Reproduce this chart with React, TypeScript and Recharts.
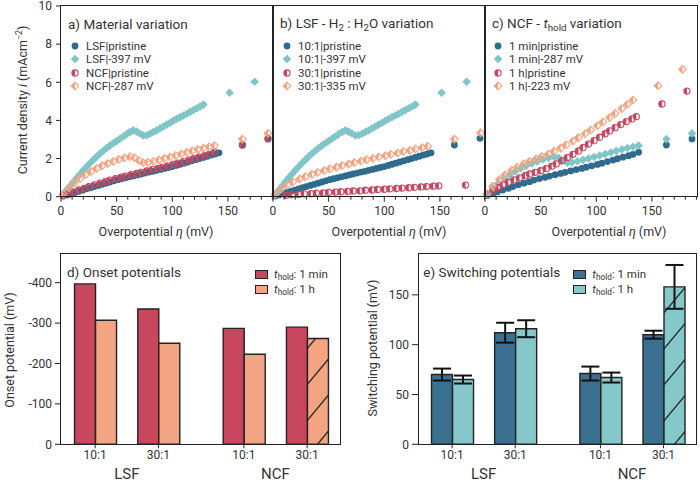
import React from 'react'
import {
    ScatterChart,
    Scatter,
    XAxis,
    YAxis,
    BarChart,
    Bar,
    Cell,
    ErrorBar,
} from 'recharts'

const FONT = 'Roboto, "Noto Sans", sans-serif'
const INK = '#333333'
const EDGE = '#222222'

const BLUE = '#2f6b8d'
const TEAL = '#80c6c8'
const RED = '#c9465f'
const ORANGE = '#f5a37f'

// a) - c): [overpotential (mV), current density (mA/cm2)]
const lsf10Pristine = [
    [2, 0.03], [5.5, 0.09], [9, 0.15], [12.5, 0.22], [16, 0.28], [19.5, 0.34], [23, 0.41],
    [26.5, 0.47], [30, 0.53], [33.5, 0.59], [37, 0.65], [40.5, 0.71], [44, 0.77], [47.5, 0.83],
    [51, 0.89], [54.5, 0.94], [58, 0.99], [61.5, 1.04], [65, 1.09], [68.5, 1.14], [72, 1.19],
    [75.5, 1.24], [79, 1.29], [82.5, 1.33], [86, 1.38], [89.5, 1.43], [93, 1.48], [96.5, 1.53],
    [100, 1.58], [103.5, 1.64], [107, 1.7], [110.5, 1.76], [114, 1.82], [117.5, 1.88], [121, 1.94],
    [124.5, 2.0], [128, 2.06], [131.5, 2.12], [135, 2.18], [138.5, 2.24], [142, 2.3],
    [163, 2.71], [186, 3.06],
]
const lsf10Switched = [
    [2, 0.12], [5, 0.33], [8, 0.55], [11, 0.77], [14, 0.98], [17, 1.18], [20, 1.38], [23, 1.57],
    [26, 1.75], [29, 1.93], [32, 2.1], [35, 2.26], [38, 2.41], [41, 2.55], [44, 2.68], [47, 2.8],
    [50, 2.92], [53, 3.04], [56, 3.16], [59, 3.28], [62, 3.39], [65, 3.48], [68, 3.41], [71, 3.31],
    [74, 3.21], [77, 3.22], [80, 3.3], [83, 3.39], [86, 3.48], [89, 3.58], [92, 3.68], [95, 3.78],
    [98, 3.88], [101, 3.98], [104, 4.08], [107, 4.17], [110, 4.26], [113, 4.35], [116, 4.45],
    [119, 4.54], [122, 4.64], [125, 4.73], [128, 4.83],
    [151.5, 5.45], [174, 6.03],
]
const ncf1minPristine = [
    [2, 0.06], [7, 0.16], [11, 0.25], [16, 0.35], [21, 0.44], [25, 0.53], [30, 0.62], [35, 0.71],
    [40, 0.79], [44, 0.87], [49, 0.95], [54, 1.02], [58, 1.08], [63, 1.15], [68, 1.22], [72, 1.28],
    [77, 1.35], [82, 1.42], [87, 1.48], [91, 1.55], [96, 1.62], [101, 1.69], [105, 1.76],
    [110, 1.84], [115, 1.92], [119, 1.99], [124, 2.07], [129, 2.15], [133, 2.22], [138, 2.33],
    [163, 2.71], [186, 3.03],
]
const ncf1minSwitched = [
    [2, 0.15], [7, 0.45], [12, 0.72], [17, 0.95], [22, 1.15], [27, 1.32], [32, 1.48], [37, 1.62],
    [42, 1.74], [47, 1.85], [52, 1.95], [57, 2.03], [62, 2.1], [66, 2.04], [70, 1.9], [74, 1.78],
    [78, 1.8], [83, 1.86], [88, 1.93], [93, 2.0], [98, 2.08], [103, 2.16], [108, 2.24], [113, 2.32],
    [118, 2.4], [123, 2.48], [128, 2.55], [133, 2.62], [138, 2.68],
    [163, 3.02], [186, 3.32],
]
const lsf30Pristine = [
    [12, 0.07], [17, 0.1], [23, 0.12], [28, 0.15], [34, 0.16], [39, 0.19], [45, 0.2], [50, 0.23],
    [56, 0.24], [61, 0.26], [67, 0.28], [72, 0.3], [78, 0.31], [83, 0.34], [89, 0.35], [94, 0.38],
    [100, 0.39], [105, 0.41], [111, 0.43], [116, 0.45], [122, 0.47], [127, 0.49], [133, 0.51],
    [138, 0.53], [144, 0.55], [149, 0.57],
    [173, 0.61],
]
const lsf30Switched = [
    [2, 0.12], [7, 0.38], [13, 0.6], [18, 0.78], [24, 0.93], [29, 1.05], [35, 1.17], [40, 1.27],
    [46, 1.37], [51, 1.46], [57, 1.55], [62, 1.63], [68, 1.71], [73, 1.79], [79, 1.87], [84, 1.94],
    [90, 2.01], [95, 2.08], [101, 2.15], [106, 2.22], [112, 2.29], [117, 2.36], [123, 2.43],
    [128, 2.5], [134, 2.57], [139, 2.65],
    [163, 3.02], [186.5, 3.35],
]
const ncf1hPristine = [
    [2, 0.1], [7, 0.3], [12, 0.48], [16, 0.62], [21, 0.76], [26, 0.88], [31, 0.99], [36, 1.1],
    [40, 1.19], [45, 1.28], [50, 1.36], [55, 1.47], [60, 1.6], [64, 1.72], [69, 1.88], [74, 2.05],
    [79, 2.22], [84, 2.4], [88, 2.57], [93, 2.76], [98, 2.94], [103, 3.12], [108, 3.3], [112, 3.45],
    [117, 3.62], [122, 3.78], [127, 3.94], [132, 4.08], [136, 4.2],
    [159, 4.86], [181.5, 5.54],
]
const ncf1hSwitched = [
    [2, 0.15], [7, 0.55], [13, 0.9], [18, 1.15], [24, 1.38], [29, 1.55], [35, 1.72], [40, 1.85],
    [46, 1.98], [51, 2.1], [57, 2.24], [62, 2.38], [68, 2.55], [73, 2.72], [79, 2.92], [84, 3.1],
    [90, 3.3], [95, 3.5], [101, 3.72], [106, 3.92], [112, 4.15], [117, 4.37], [123, 4.62],
    [128, 4.85], [133, 5.07],
    [155.5, 5.82], [177.5, 6.68],
]

const X_TICKS = [0, 10, 20, 30, 40, 50, 60, 70, 80, 90, 100, 110, 120, 130, 140, 150, 160, 170, 180, 190]
const Y_TICKS = [0, 2, 4, 6, 8, 10]

// d), e): bar groups
const ratioLabels = ['10:1', '30:1', '10:1', '30:1']
const groupLabels = ['LSF', 'NCF']
const onset1min = [-397, -335, -287, -290]
const onset1h = [-307, -250, -223, -262]
const switch1min = [70, 112, 71, 110]
const switch1minErr = [6, 10, 7, 4]
const switch1h = [65, 116, 67, 158]
const switch1hErr = [4, 8.5, 5, 22]

// where the groups sit on the numeric x axis of d) and e)
const RATIO_POS = [0, 1, 2.35, 3.35]
const GROUP_POS = [0.5, 2.85]
const BAR_DOMAIN = [-0.54, 3.87]

const BAR_RED = '#c8465e'
const BAR_ORANGE = '#f3a583'
const BAR_BLUE = '#3b7091'
const BAR_TEAL = '#84c8c9'

const pts = (arr: number[][]) => arr.map(([x, y]) => ({ x, y }))

const Sub = ({ children }: any) => (
    <span style={{ fontSize: '0.72em', verticalAlign: '-0.28em' }}>{children}</span>
)

function Marker({ cx, cy, kind, color }: any) {
    if (cx == null || cy == null) return null
    if (kind === 'circle') return <circle cx={cx} cy={cy} r={3.4} fill={color} />
    if (kind === 'diamond') {
        const r = 4.3
        return (
            <polygon
                points={`${cx},${cy - r} ${cx + r},${cy} ${cx},${cy + r} ${cx - r},${cy}`}
                fill={color}
            />
        )
    }
    if (kind === 'halfCircle') {
        const r = 3.1
        return (
            <g>
                <path d={`M${cx},${cy - r} A${r},${r} 0 0 0 ${cx},${cy + r} Z`} fill={color} />
                <circle cx={cx} cy={cy} r={r} fill="none" stroke={color} strokeWidth={1.1} />
            </g>
        )
    }
    const r = 3.8
    return (
        <g>
            <polygon points={`${cx},${cy - r} ${cx - r},${cy} ${cx},${cy + r}`} fill={color} />
            <polygon
                points={`${cx},${cy - r} ${cx + r},${cy} ${cx},${cy + r} ${cx - r},${cy}`}
                fill="none"
                stroke={color}
                strokeWidth={1.1}
            />
        </g>
    )
}

const panels = [
    {
        x: 61,
        title: <>a) Material variation</>,
        legendX: 75,
        series: [
            { name: 'LSF|pristine', data: lsf10Pristine, color: BLUE, kind: 'circle' },
            { name: 'LSF|-397 mV', data: lsf10Switched, color: TEAL, kind: 'diamond' },
            { name: 'NCF|pristine', data: ncf1minPristine, color: RED, kind: 'halfCircle' },
            { name: 'NCF|-287 mV', data: ncf1minSwitched, color: ORANGE, kind: 'halfDiamond' },
        ],
    },
    {
        x: 273,
        title: (
            <>
                b) LSF - H<Sub>2</Sub> : H<Sub>2</Sub>O variation
            </>
        ),
        legendX: 287,
        series: [
            { name: '10:1|pristine', data: lsf10Pristine, color: BLUE, kind: 'circle' },
            { name: '10:1|-397 mV', data: lsf10Switched, color: TEAL, kind: 'diamond' },
            { name: '30:1|pristine', data: lsf30Pristine, color: RED, kind: 'halfCircle' },
            { name: '30:1|-335 mV', data: lsf30Switched, color: ORANGE, kind: 'halfDiamond' },
        ],
    },
    {
        x: 485,
        title: (
            <>
                c) NCF - <i>t</i>
                <Sub>hold</Sub> variation
            </>
        ),
        legendX: 498,
        series: [
            { name: '1 min|pristine', data: ncf1minPristine, color: BLUE, kind: 'circle' },
            { name: '1 min|-287 mV', data: ncf1minSwitched, color: TEAL, kind: 'diamond' },
            { name: '1 h|pristine', data: ncf1hPristine, color: RED, kind: 'halfCircle' },
            { name: '1 h|-223 mV', data: ncf1hSwitched, color: ORANGE, kind: 'halfDiamond' },
        ],
    },
]

const TOP = { y: 6, w: 212, h: 190.7 }
const LEGEND_ROWS = [46, 59.3, 72.5, 85.5]

function XTick({ x, y, payload }: any) {
    const major = payload.value % 50 === 0
    return (
        <g>
            <line x1={x} x2={x} y1={y} y2={y + (major ? 5 : 3)} stroke={EDGE} strokeWidth={1} />
            {major && (
                <text x={x} y={y + 18} textAnchor="middle" fontSize={12} fill={INK} fontFamily={FONT}>
                    {payload.value}
                </text>
            )}
        </g>
    )
}

const NoTick = () => <g />

function Frame({ x, y, w, h }: any) {
    return (
        <div
            style={{
                position: 'absolute',
                left: x - 0.75,
                top: y - 0.75,
                width: w + 1.5,
                height: h + 1.5,
                border: `1.5px solid ${EDGE}`,
                boxSizing: 'border-box',
                pointerEvents: 'none',
            }}
        />
    )
}

function Txt({ x, y, size = 12, center = false, rotate = false, children }: any) {
    let transform = center ? 'translate(-50%, -50%)' : 'translateY(-50%)'
    if (rotate) transform += ' rotate(-90deg)'
    return (
        <div
            style={{
                position: 'absolute',
                left: x,
                top: y,
                transform,
                whiteSpace: 'nowrap',
                fontSize: size,
                lineHeight: 1,
                color: INK,
                fontFamily: FONT,
            }}
        >
            {children}
        </div>
    )
}

function CurvePanel({ panel, first }: any) {
    const L = 60
    const R = 6
    const T = TOP.y
    const B = 44
    return (
        <div style={{ position: 'absolute', left: panel.x - L, top: 0 }}>
            <ScatterChart
                width={TOP.w + L + R}
                height={TOP.h + T + B}
                margin={{ top: T, right: R, bottom: B - 30, left: first ? L - 40 : L }}
            >
                <XAxis
                    type="number"
                    dataKey="x"
                    domain={[0, 190.5]}
                    ticks={X_TICKS}
                    interval={0}
                    height={30}
                    tickSize={0}
                    tickMargin={0}
                    tickLine={false}
                    axisLine={false}
                    tick={<XTick />}
                />
                {first ? (
                    <YAxis
                        type="number"
                        dataKey="y"
                        domain={[0, 10]}
                        ticks={Y_TICKS}
                        interval={0}
                        width={40}
                        tickSize={5}
                        tickMargin={4}
                        axisLine={false}
                        tickLine={{ stroke: EDGE }}
                        tick={{ fontSize: 12, fill: INK, fontFamily: FONT }}
                    />
                ) : (
                    <YAxis
                        type="number"
                        dataKey="y"
                        domain={[0, 10]}
                        ticks={[2, 4, 6, 8]}
                        interval={0}
                        width={0}
                        mirror
                        tickSize={5}
                        axisLine={false}
                        tickLine={{ stroke: EDGE }}
                        tick={<NoTick />}
                    />
                )}
                {panel.series.map((s: any) => (
                    <Scatter
                        key={s.name}
                        name={s.name}
                        data={pts(s.data)}
                        isAnimationActive={false}
                        shape={(p: any) => <Marker cx={p.cx} cy={p.cy} kind={s.kind} color={s.color} />}
                    />
                ))}
            </ScatterChart>
        </div>
    )
}

function CurveLegend({ panel }: any) {
    return (
        <>
            {panel.series.map((s: any, i: number) => (
                <div
                    key={s.name}
                    style={{
                        position: 'absolute',
                        left: panel.legendX - 7,
                        top: LEGEND_ROWS[i] - 7,
                        height: 14,
                        display: 'flex',
                        alignItems: 'center',
                        whiteSpace: 'nowrap',
                        fontFamily: FONT,
                        fontSize: 11.5,
                        color: INK,
                    }}
                >
                    <svg width={14} height={14}>
                        <Marker cx={7} cy={7} kind={s.kind} color={s.color} />
                    </svg>
                    <span style={{ marginLeft: 4 }}>{s.name}</span>
                </div>
            ))}
        </>
    )
}

const BOTTOM = { y: 254, h: 190.3 }

function BarPanel({ x, w, rows, keys, colors, hatch, yProps, errKeys }: any) {
    const L = 60
    const R = 6
    const T = 6
    return (
        <div style={{ position: 'absolute', left: x - L, top: BOTTOM.y - T }}>
            <BarChart
                width={w + L + R}
                height={BOTTOM.h + T + 40}
                data={rows}
                margin={{ top: T, right: R, bottom: 0, left: L - 50 }}
                barGap={0}
            >
                <XAxis
                    xAxisId="ax1"
                    type="number"
                    dataKey="pos"
                    domain={BAR_DOMAIN}
                    allowDataOverflow
                    ticks={RATIO_POS}
                    interval={0}
                    height={19}
                    tickSize={4}
                    tickMargin={2}
                    axisLine={false}
                    tickLine={{ stroke: EDGE }}
                    tickFormatter={(v: number) => ratioLabels[RATIO_POS.indexOf(v)]}
                    tick={{ fontSize: 12, fill: INK, fontFamily: FONT }}
                />
                <XAxis
                    xAxisId="ax2"
                    type="number"
                    dataKey="pos"
                    domain={BAR_DOMAIN}
                    allowDataOverflow
                    ticks={GROUP_POS}
                    interval={0}
                    height={21}
                    tickSize={0}
                    tickMargin={5}
                    axisLine={false}
                    tickLine={false}
                    tickFormatter={(v: number) => groupLabels[GROUP_POS.indexOf(v)]}
                    tick={{ fontSize: 15, fill: INK, fontFamily: FONT }}
                />
                <YAxis
                    type="number"
                    width={50}
                    interval={0}
                    tickSize={6}
                    tickMargin={3}
                    axisLine={false}
                    tickLine={{ stroke: EDGE }}
                    tick={{ fontSize: 12, fill: INK, fontFamily: FONT }}
                    {...yProps}
                />
                {keys.map((k: string, i: number) => (
                    <Bar
                        key={k}
                        xAxisId="ax1"
                        dataKey={k}
                        barSize={21}
                        fill={colors[i]}
                        stroke={EDGE}
                        strokeWidth={1.4}
                        isAnimationActive={false}
                    >
                        {i === 1 &&
                            rows.map((_: any, j: number) => (
                                <Cell key={j} fill={j === rows.length - 1 ? `url(#${hatch})` : colors[i]} />
                            ))}
                        {errKeys && (
                            <ErrorBar dataKey={errKeys[i]} width={9} strokeWidth={2} stroke="#111" direction="y" />
                        )}
                    </Bar>
                ))}
            </BarChart>
        </div>
    )
}

function BarLegend({ x, colors }: any) {
    const rows = [274.3, 289.3]
    const txt = ['1 min', '1 h']
    return (
        <>
            {rows.map((y, i) => (
                <div
                    key={i}
                    style={{
                        position: 'absolute',
                        left: x,
                        top: y - 7,
                        height: 14,
                        display: 'flex',
                        alignItems: 'center',
                        whiteSpace: 'nowrap',
                        fontFamily: FONT,
                        fontSize: 11.5,
                        color: INK,
                    }}
                >
                    <div
                        style={{
                            width: 13,
                            height: 9,
                            background: colors[i],
                            border: `1.2px solid ${EDGE}`,
                            boxSizing: 'border-box',
                        }}
                    />
                    <span style={{ marginLeft: 6 }}>
                        <i>t</i>
                        <Sub>hold</Sub>: {txt[i]}
                    </span>
                </div>
            ))}
        </>
    )
}

export default function App() {
    const onsetRows = RATIO_POS.map((pos, i) => ({ pos, min1: onset1min[i], h1: onset1h[i] }))
    const switchRows = RATIO_POS.map((pos, i) => ({
        pos,
        min1: switch1min[i],
        h1: switch1h[i],
        min1Err: switch1minErr[i],
        h1Err: switch1hErr[i],
    }))

    return (
        <div
            style={{
                position: 'absolute',
                left: 0,
                top: 0,
                width: 700,
                height: 484,
                background: '#fff',
                overflow: 'hidden',
                fontFamily: FONT,
            }}
        >
            <svg width={0} height={0} style={{ position: 'absolute' }}>
                <defs>
                    <pattern id="hatchOrange" patternUnits="userSpaceOnUse" width={30} height={36}>
                        <rect width={30} height={36} fill={BAR_ORANGE} />
                        <path d="M-3,39.6 L33,-3.6" stroke={EDGE} strokeWidth={1.3} />
                    </pattern>
                    <pattern id="hatchTeal" patternUnits="userSpaceOnUse" width={30} height={36}>
                        <rect width={30} height={36} fill={BAR_TEAL} />
                        <path d="M-3,39.6 L33,-3.6" stroke={EDGE} strokeWidth={1.3} />
                    </pattern>
                </defs>
            </svg>

            {panels.map((p, i) => (
                <CurvePanel key={i} panel={p} first={i === 0} />
            ))}
            {panels.map((p, i) => (
                <Frame key={i} x={p.x} y={TOP.y} w={TOP.w} h={TOP.h} />
            ))}
            {panels.map((p, i) => (
                <CurveLegend key={i} panel={p} />
            ))}
            <Txt x={68} y={25} size={13.5}>{panels[0].title}</Txt>
            <Txt x={280} y={25} size={13.5}>{panels[1].title}</Txt>
            <Txt x={492} y={25} size={13.5}>{panels[2].title}</Txt>

            <Txt x={22} y={100} size={12.5} center rotate>
                Current density <i>i</i> (mAcm<sup style={{ fontSize: '0.7em' }}>−2</sup>)
            </Txt>
            <Txt x={156} y={232} size={12.5} center>
                Overpotential <i>η</i> (mV)
            </Txt>
            <Txt x={389} y={232} size={12.5} center>
                Overpotential <i>η</i> (mV)
            </Txt>
            <Txt x={609} y={232} size={12.5} center>
                Overpotential <i>η</i> (mV)
            </Txt>

            <BarPanel
                x={61}
                w={279}
                rows={onsetRows}
                keys={['min1', 'h1']}
                colors={[BAR_RED, BAR_ORANGE]}
                hatch="hatchOrange"
                yProps={{ domain: [-471, 0], reversed: true, ticks: [-400, -300, -200, -100, 0] }}
            />
            <BarPanel
                x={418.3}
                w={278.4}
                rows={switchRows}
                keys={['min1', 'h1']}
                colors={[BAR_BLUE, BAR_TEAL]}
                hatch="hatchTeal"
                errKeys={['min1Err', 'h1Err']}
                yProps={{ domain: [0, 191], ticks: [0, 50, 100, 150] }}
            />
            <Frame x={61} y={BOTTOM.y} w={279} h={BOTTOM.h} />
            <Frame x={418.3} y={BOTTOM.y} w={278.4} h={BOTTOM.h} />

            <Txt x={67} y={273.3} size={13.5}>d) Onset potentials</Txt>
            <Txt x={423.3} y={273.3} size={13.5}>e) Switching potentials</Txt>
            <BarLegend x={255} colors={[BAR_RED, BAR_ORANGE]} />
            <BarLegend x={573.3} colors={[BAR_BLUE, BAR_TEAL]} />

            <Txt x={10} y={350} size={12.5} center rotate>
                Onset potential (mV)
            </Txt>
            <Txt x={373} y={348} size={12.5} center rotate>
                Switching potential (mV)
            </Txt>
        </div>
    )
}
